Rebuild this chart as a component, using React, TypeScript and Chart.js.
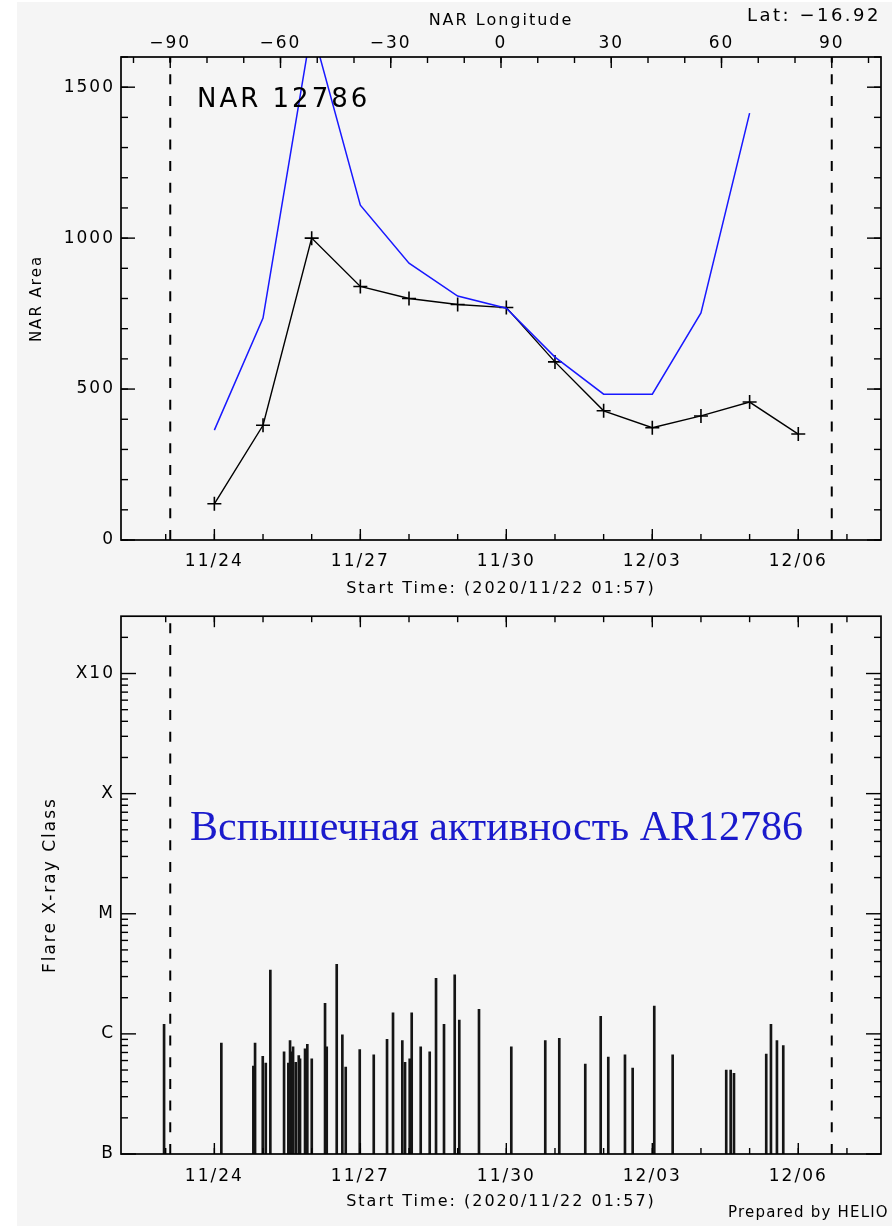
import { useEffect, useRef } from 'react';
import { Chart, registerables } from 'chart.js';

Chart.register(...registerables);

// Time axis: days since 2020-11-22 00:00 UT
const START_DAY = 0.0813; // 2020/11/22 01:57
const END_DAY = 15.7;
const DAY_TICKS = [2, 5, 8, 11, 14];
const DAY_TICK_LABELS = ['11/24', '11/27', '11/30', '12/03', '12/06'];
const START_TIME_TEXT = 'Start Time: (2020/11/22 01:57)';

// Longitude of the region as it crosses the disk
const LON_MIN = -103.4;
const LON_MAX = 103.4;
const LON_TICKS = [-90, -60, -30, 0, 30, 60, 90];
const LIMB_LONGITUDES = [-90, 90];

// NAR area per day
const AREA_DAYS = [2, 3, 4, 5, 6, 7, 8, 9, 10, 11, 12, 13, 14];
const NAR_AREA = [120, 380, 1000, 840, 800, 780, 770, 590, 428, 372, 411, 457, 351];
const DEPROJ_DAYS = [2, 3, 4, 5, 6, 7, 8, 9, 10, 11, 12, 13];
const NAR_AREA_DEPROJECTED = [364, 735, 1700, 1109, 917, 808, 768, 606, 483, 483, 752, 1414];
const AREA_MAX = 1600;
const AREA_TICKS = [0, 500, 1000, 1500];

// GOES flares: peak time (days) and peak flux (W/m^2)
const FLARE_DAYS = [
  0.987, 2.164, 2.822, 2.857, 3.015, 3.077, 3.171, 3.453, 3.541, 3.576, 3.611, 3.638,
  3.693, 3.755, 3.781, 3.884, 3.931, 4.022, 4.295, 4.33, 4.535, 4.651, 4.72, 5.008,
  5.296, 5.569, 5.692, 5.883, 5.939, 6.035, 6.076, 6.261, 6.446, 6.576, 6.74, 6.96,
  7.054, 7.459, 8.123, 8.821, 9.109, 9.643, 9.96, 10.116, 10.459, 10.617, 11.061,
  11.439, 12.54, 12.631, 12.699, 13.362, 13.459, 13.582, 13.712,
];
const FLARE_FLUX = [
  1.2e-6, 8.4e-7, 5.4e-7, 8.4e-7, 6.5e-7, 5.7e-7, 3.4e-6, 7.1e-7, 5.7e-7, 8.8e-7, 7.1e-7, 7.8e-7,
  5.8e-7, 6.6e-7, 6.2e-7, 7.5e-7, 8.2e-7, 6.2e-7, 1.8e-6, 7.8e-7, 3.8e-6, 9.8e-7, 5.3e-7, 7.4e-7,
  6.7e-7, 9.0e-7, 1.5e-6, 8.8e-7, 5.8e-7, 6.2e-7, 1.5e-6, 7.8e-7, 7.1e-7, 2.9e-6, 1.2e-6, 3.1e-6,
  1.3e-6, 1.6e-6, 7.8e-7, 8.8e-7, 9.2e-7, 5.6e-7, 1.4e-6, 6.4e-7, 6.7e-7, 5.2e-7, 1.7e-6,
  6.7e-7, 5.0e-7, 5.0e-7, 4.7e-7, 6.8e-7, 1.2e-6, 8.8e-7, 8.0e-7,
];
const FLUX_MIN = 1e-7;
const FLUX_MAX = 3.0e-3;
const CLASS_TICKS = [1e-7, 1e-6, 1e-5, 1e-4, 1e-3];
const CLASS_LABELS = ['B', 'C', 'M', 'X', 'X10'];

const FONT = '"DejaVu Sans", "Liberation Sans", sans-serif';
const INK = '#000';
const BLUE_LINE = '#1818ff';
const BLUE_TEXT = '#1a1acc';

const range = (a: number, b: number, step: number) => {
  const out: number[] = [];
  for (let v = a; v <= b + 1e-9; v += step) out.push(Math.round(v * 1e6) / 1e6);
  return out;
};

const logMinor = (lo: number, hi: number) => {
  const out: number[] = [];
  for (let e = Math.floor(Math.log10(lo)); e <= Math.ceil(Math.log10(hi)); e++) {
    for (let k = 2; k <= 9; k++) {
      const v = k * Math.pow(10, e);
      if (v > lo && v < hi) out.push(v);
    }
  }
  return out;
};

const dayMinor = range(1, 15, 1);

// Letter spacing for all text Chart.js draws (wide plotting font look)
const spacingPlugin = {
  id: 'wideText',
  beforeDraw(chart: any) {
    chart.ctx.letterSpacing = '2px';
  },
  afterDraw(chart: any) {
    chart.ctx.letterSpacing = '0px';
  },
};

// Box frame with inward major/minor ticks on all four sides
const framePlugin = {
  id: 'idlFrame',
  afterDatasetsDraw(chart: any, _args: any, o: any) {
    const { ctx, chartArea: a } = chart;
    ctx.save();
    ctx.strokeStyle = INK;
    ctx.lineWidth = 1.4;
    const seg = (x1: number, y1: number, x2: number, y2: number) => {
      ctx.beginPath();
      ctx.moveTo(x1, y1);
      ctx.lineTo(x2, y2);
      ctx.stroke();
    };
    for (const side of ['bottom', 'top', 'left', 'right']) {
      const set = o[side];
      if (!set) continue;
      const s = chart.scales[set.scale];
      const items: [number, boolean][] = [
        ...set.minor.map((v: number) => [v, false] as [number, boolean]),
        ...set.major.map((v: number) => [v, true] as [number, boolean]),
      ];
      for (const [v, major] of items) {
        const p = s.getPixelForValue(v);
        if (side === 'bottom' || side === 'top') {
          if (p < a.left - 0.5 || p > a.right + 0.5) continue;
          const len = major ? o.xMajor : o.xMinor;
          if (side === 'bottom') seg(p, a.bottom, p, a.bottom - len);
          else seg(p, a.top, p, a.top + len);
        } else {
          if (p < a.top - 0.5 || p > a.bottom + 0.5) continue;
          const len = major ? o.yMajor : o.yMinor;
          if (side === 'left') seg(a.left, p, a.left + len, p);
          else seg(a.right, p, a.right - len, p);
        }
      }
    }
    ctx.lineWidth = 1.7;
    ctx.strokeRect(a.left, a.top, a.right - a.left, a.bottom - a.top);
    ctx.restore();
  },
};

// Free-standing labels inside the figure
const notesPlugin = {
  id: 'notes',
  afterDraw(chart: any, _args: any, o: any) {
    const { ctx } = chart;
    for (const n of o.items || []) {
      ctx.save();
      ctx.font = n.font;
      ctx.fillStyle = n.color || INK;
      ctx.textAlign = n.align || 'left';
      ctx.textBaseline = 'alphabetic';
      ctx.letterSpacing = (n.spacing || 0) + 'px';
      ctx.fillText(n.text, n.x, n.y);
      ctx.restore();
    }
  },
};

const tickFont = { family: FONT, size: 17 };
const titleFont = { family: FONT, size: 16 };

const limbLine = (lon: number, lo: number, hi: number) => ({
  type: 'line' as const,
  data: [
    { x: lon, y: lo },
    { x: lon, y: hi },
  ],
  xAxisID: 'lon',
  yAxisID: 'y',
  borderColor: INK,
  borderWidth: 2,
  borderDash: [10, 11.7],
  pointRadius: 0,
  fill: false,
});

const hiddenGrid = { display: false, drawTicks: false };

function areaConfig(): any {
  return {
    type: 'line',
    data: {
      datasets: [
        ...LIMB_LONGITUDES.map((l) => limbLine(l, 0, AREA_MAX)),
        {
          data: DEPROJ_DAYS.map((d, i) => ({ x: d, y: NAR_AREA_DEPROJECTED[i] })),
          xAxisID: 'x',
          yAxisID: 'y',
          borderColor: BLUE_LINE,
          borderWidth: 1.5,
          pointRadius: 0,
          tension: 0,
        },
        {
          data: AREA_DAYS.map((d, i) => ({ x: d, y: NAR_AREA[i] })),
          xAxisID: 'x',
          yAxisID: 'y',
          borderColor: INK,
          borderWidth: 1.4,
          pointStyle: 'cross',
          pointRadius: 7,
          pointBorderWidth: 1.6,
          pointBorderColor: INK,
          tension: 0,
        },
      ],
    },
    options: {
      responsive: false,
      animation: false,
      events: [],
      layout: { padding: { left: 0, right: 11, top: 0, bottom: 0 } },
      plugins: {
        legend: { display: false },
        tooltip: { enabled: false },
        idlFrame: {
          bottom: { scale: 'x', major: DAY_TICKS, minor: dayMinor },
          top: { scale: 'lon', major: LON_TICKS, minor: range(-100, 100, 10) },
          left: { scale: 'y', major: AREA_TICKS, minor: range(0, AREA_MAX, 100) },
          right: { scale: 'y', major: AREA_TICKS, minor: range(0, AREA_MAX, 100) },
          xMajor: 11,
          xMinor: 6,
          yMajor: 14,
          yMinor: 7,
        },
        notes: {
          items: [
            { text: 'NAR 12786', x: 197, y: 107, font: `26px ${FONT}`, spacing: 3 },
            { text: 'Lat: \u221216.92', x: 881, y: 21, font: `18px ${FONT}`, align: 'right', spacing: 2.5 },
          ],
        },
      },
      scales: {
        x: {
          type: 'linear',
          position: 'bottom',
          min: START_DAY,
          max: END_DAY,
          offset: false,
          grid: hiddenGrid,
          border: { display: false },
          afterBuildTicks: (s: any) => {
            s.ticks = DAY_TICKS.map((v) => ({ value: v }));
          },
          ticks: {
            autoSkip: false,
            maxRotation: 0,
            padding: 11,
            color: INK,
            font: tickFont,
            callback: (_v: any, i: number) => DAY_TICK_LABELS[i],
          },
          title: { display: true, text: START_TIME_TEXT, color: INK, font: titleFont, padding: { top: 0, bottom: 1.5 } },
          afterFit: (s: any) => {
            s.height = 60;
          },
        },
        lon: {
          type: 'linear',
          position: 'top',
          min: LON_MIN,
          max: LON_MAX,
          offset: false,
          grid: hiddenGrid,
          border: { display: false },
          afterBuildTicks: (s: any) => {
            s.ticks = LON_TICKS.map((v) => ({ value: v }));
          },
          ticks: {
            autoSkip: false,
            maxRotation: 0,
            padding: 3,
            color: INK,
            font: tickFont,
            callback: (v: any) => (v < 0 ? '\u2212' + Math.abs(v) : String(v)),
          },
          title: { display: true, text: 'NAR Longitude', color: INK, font: titleFont, padding: { top: 11, bottom: 0 } },
          afterFit: (s: any) => {
            s.height = 57;
          },
        },
        y: {
          type: 'linear',
          position: 'left',
          min: 0,
          max: AREA_MAX,
          grid: hiddenGrid,
          border: { display: false },
          afterBuildTicks: (s: any) => {
            s.ticks = AREA_TICKS.map((v) => ({ value: v }));
          },
          ticks: { padding: 6, color: INK, font: tickFont, callback: (v: any) => String(v) },
          title: { display: true, text: 'NAR Area', color: INK, font: { family: FONT, size: 15 }, padding: { top: 28, bottom: 0 } },
          afterFit: (s: any) => {
            s.width = 121;
          },
        },
      },
    },
    plugins: [spacingPlugin, framePlugin, notesPlugin],
  };
}

function flareConfig(): any {
  return {
    type: 'bar',
    data: {
      datasets: [
        {
          type: 'bar',
          data: FLARE_DAYS.map((d, i) => ({ x: d, y: [FLUX_MIN, FLARE_FLUX[i]] })),
          xAxisID: 'x',
          yAxisID: 'y',
          backgroundColor: '#151515',
          borderWidth: 0,
          barThickness: 2,
        },
        ...LIMB_LONGITUDES.map((l) => limbLine(l, FLUX_MIN, FLUX_MAX)),
      ],
    },
    options: {
      responsive: false,
      animation: false,
      events: [],
      layout: { padding: { left: 0, right: 11, top: 15, bottom: 0 } },
      plugins: {
        legend: { display: false },
        tooltip: { enabled: false },
        idlFrame: {
          bottom: { scale: 'x', major: DAY_TICKS, minor: dayMinor },
          top: { scale: 'x', major: DAY_TICKS, minor: dayMinor },
          left: { scale: 'y', major: CLASS_TICKS, minor: logMinor(FLUX_MIN, FLUX_MAX) },
          right: { scale: 'y', major: CLASS_TICKS, minor: logMinor(FLUX_MIN, FLUX_MAX) },
          xMajor: 11,
          xMinor: 6,
          yMajor: 15,
          yMinor: 7,
        },
        notes: {
          items: [
            {
              text: 'Вспышечная активность AR12786',
              x: 190,
              y: 240,
              font: `42px "Liberation Serif", "Times New Roman", serif`,
              color: BLUE_TEXT,
            },
            { text: 'Prepared by HELIO', x: 728, y: 617, font: `15px ${FONT}`, spacing: 1.2 },
          ],
        },
      },
      scales: {
        x: {
          type: 'linear',
          position: 'bottom',
          min: START_DAY,
          max: END_DAY,
          offset: false,
          grid: hiddenGrid,
          border: { display: false },
          afterBuildTicks: (s: any) => {
            s.ticks = DAY_TICKS.map((v) => ({ value: v }));
          },
          ticks: {
            autoSkip: false,
            maxRotation: 0,
            padding: 12.5,
            color: INK,
            font: tickFont,
            callback: (_v: any, i: number) => DAY_TICK_LABELS[i],
          },
          title: { display: true, text: START_TIME_TEXT, color: INK, font: titleFont, padding: { top: 0, bottom: 15 } },
          afterFit: (s: any) => {
            s.height = 72;
          },
        },
        lon: {
          type: 'linear',
          display: false,
          min: LON_MIN,
          max: LON_MAX,
          offset: false,
        },
        y: {
          type: 'logarithmic',
          position: 'left',
          min: FLUX_MIN,
          max: FLUX_MAX,
          grid: hiddenGrid,
          border: { display: false },
          afterBuildTicks: (s: any) => {
            s.ticks = CLASS_TICKS.map((v) => ({ value: v }));
          },
          ticks: {
            padding: 6,
            color: INK,
            font: tickFont,
            callback: (_v: any, i: number) => CLASS_LABELS[i],
          },
          title: { display: true, text: 'Flare X-ray Class', color: INK, font: { family: FONT, size: 17 }, padding: { top: 40, bottom: 0 } },
          afterFit: (s: any) => {
            s.width = 121;
          },
        },
      },
    },
    plugins: [spacingPlugin, framePlugin, notesPlugin],
  };
}

export default function App() {
  const areaRef = useRef<HTMLCanvasElement>(null);
  const flareRef = useRef<HTMLCanvasElement>(null);

  useEffect(() => {
    const charts: Chart[] = [];
    if (areaRef.current) charts.push(new Chart(areaRef.current, areaConfig()));
    if (flareRef.current) charts.push(new Chart(flareRef.current, flareConfig()));
    return () => charts.forEach((c) => c.destroy());
  }, []);

  return (
    <div style={{ position: 'absolute', left: 0, top: 0, width: 892, height: 1226, background: '#fff', overflow: 'hidden' }}>
      <div style={{ position: 'absolute', left: 17, top: 2, width: 875, height: 1224, background: '#f5f5f5' }} />
      <canvas ref={areaRef} width={892} height={600} style={{ position: 'absolute', left: 0, top: 0, display: 'block' }} />
      <canvas ref={flareRef} width={892} height={626} style={{ position: 'absolute', left: 0, top: 600, display: 'block' }} />
    </div>
  );
}
